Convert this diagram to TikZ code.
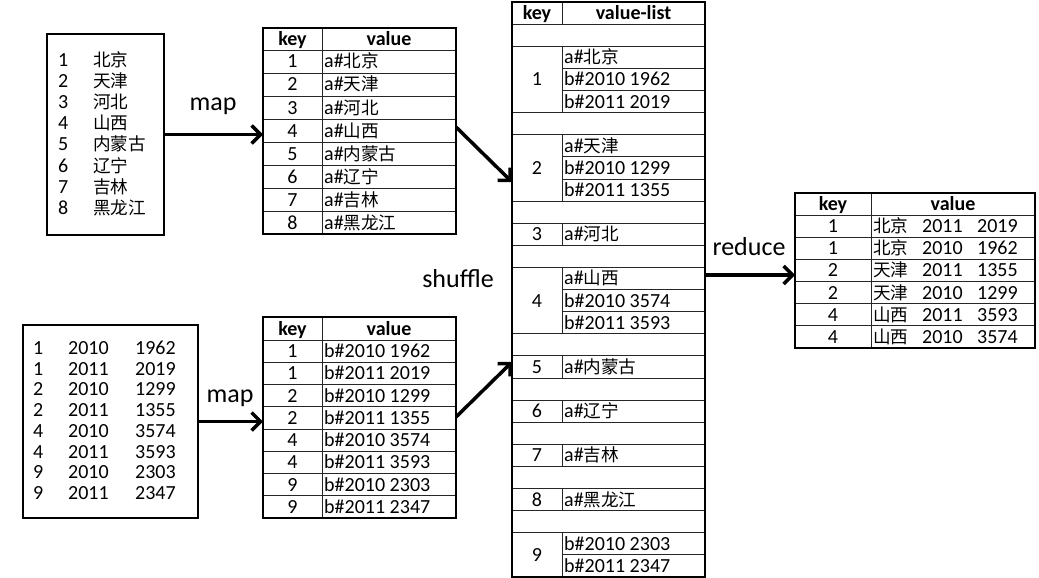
\documentclass[tikz,border=0pt]{standalone}
\usepackage{fontspec}
\setmainfont{Carlito}
\newfontfamily\cjk[Scale=0.88]{Noto Sans CJK SC}
\usetikzlibrary{arrows.meta}
\newcommand{\zh}[1]{{\cjk #1}}

\begin{document}
\begin{tikzpicture}[x=1pt,y=-1pt,
  box/.style={draw,line width=2.6pt,inner sep=0pt,outer sep=0pt},
  grid/.style={line width=0.8pt,black!85},
  txt/.style={inner sep=0pt,font=\fontsize{20}{24}\selectfont},
  hdr/.style={inner sep=0pt,font=\fontsize{20}{24}\selectfont\bfseries},
  lbl/.style={inner sep=0pt,font=\fontsize{26}{30}\selectfont},
  arr/.style={line width=3.5pt,-{Straight Barb[length=9pt,width=18pt]}}]
\useasboundingbox (0,0) rectangle (1039,578);

% ---------- input file 1 ----------
\foreach \z [count=\i] in {北京,天津,河北,山西,内蒙古,辽宁,吉林,黑龙江} {
  \pgfmathsetmacro\yb{60+21.1*(\i-1)+6.5}
  \node[txt,anchor=base west] (ina\i) at (58,\yb) {\i};
  \node[txt,anchor=base west] (inaz\i) at (93,\yb) {\zh{\z}};
}
\node[box,minimum width=117pt,minimum height=201pt] (in1) at (105.5,134.5) {};

% ---------- input file 2 ----------
\foreach \k/\yr/\n [count=\i] in {1/2010/1962,1/2011/2019,2/2010/1299,2/2011/1355,
                                   4/2010/3574,4/2011/3593,9/2010/2303,9/2011/2347} {
  \pgfmathsetmacro\yb{348+20.7*(\i-1)+6.5}
  \node[txt,anchor=base west] (inbk\i) at (33,\yb) {\k};
  \node[txt,anchor=base west] (inby\i) at (68,\yb) {\yr};
  \node[txt,anchor=base west] (inbn\i) at (135,\yb) {\n};
}
\node[box,minimum width=175pt,minimum height=193pt] (in2) at (110.5,421.5) {};

% ---------- map output 1 ----------
\foreach \k in {0,...,7} \draw[grid] (263,50+23*\k) -- (456,50+23*\k);
\draw[grid] (322,28) -- (322,234);
\node[hdr,anchor=base] (t1hk) at (292.5,45.5) {key};
\node[hdr,anchor=base] (t1hv) at (389,45.5) {value};
\foreach \z [count=\i] in {北京,天津,河北,山西,内蒙古,辽宁,吉林,黑龙江} {
  \pgfmathsetmacro\yb{50+23*(\i-0.5)+6.5}
  \node[txt,anchor=base] (t1k\i) at (292.5,\yb) {\i};
  \node[txt,anchor=base west] (t1v\i) at (324,\yb) {a\#\zh{\z}};
}
\node[box,minimum width=193pt,minimum height=206pt] (tab1) at (359.5,131) {};

% ---------- map output 2 ----------
\foreach \k in {0,...,7} \draw[grid] (263,340+22.25*\k) -- (456,340+22.25*\k);
\draw[grid] (322,317) -- (322,518);
\node[hdr,anchor=base] (t2hk) at (292.5,335) {key};
\node[hdr,anchor=base] (t2hv) at (389,335) {value};
\foreach \k/\yr/\n [count=\i] in {1/2010/1962,1/2011/2019,2/2010/1299,2/2011/1355,
                                   4/2010/3574,4/2011/3593,9/2010/2303,9/2011/2347} {
  \pgfmathsetmacro\yb{340+22.25*(\i-0.5)+6.5}
  \node[txt,anchor=base] (t2k\i) at (292.5,\yb) {\k};
  \node[txt,anchor=base west] (t2v\i) at (324,\yb) {b\#\yr\ \n};
}
\node[box,minimum width=193pt,minimum height=201pt] (tab2) at (359.5,417.5) {};

% ---------- shuffled key / value-list table ----------
\def\rh{22.115}
\foreach \k in {1,2,5,6,9,10,11,12,15,16,17,18,19,20,21,22,23,24}
  \draw[grid] (512,2+\rh*\k) -- (705,2+\rh*\k);
\foreach \k in {3,4,7,8,13,14,25}
  \draw[grid] (562,2+\rh*\k) -- (705,2+\rh*\k);
\foreach \a/\b in {0/1,2/5,6/9,10/11,12/15,16/17,18/19,20/21,22/23,24/26}
  \draw[grid] (562,2+\rh*\a) -- (562,2+\rh*\b);
\node[hdr,anchor=base] (bhk) at (537,19.5) {key};
\node[hdr,anchor=base] (bhv) at (633.5,19.5) {value-list};
\foreach \key/\a/\b in {1/2/5,2/6/9,3/10/11,4/12/15,5/16/17,6/18/19,7/20/21,8/22/23,9/24/26}
  \node[txt,anchor=base] (bk\key) at (537,2+\rh*\a/2+\rh*\b/2+6.5) {\key};
\foreach \k/\v in {2/a\#\zh{北京},3/b\#2010 1962,4/b\#2011 2019,
                   6/a\#\zh{天津},7/b\#2010 1299,8/b\#2011 1355,
                   10/a\#\zh{河北},
                   12/a\#\zh{山西},13/b\#2010 3574,14/b\#2011 3593,
                   16/a\#\zh{内蒙古},18/a\#\zh{辽宁},20/a\#\zh{吉林},22/a\#\zh{黑龙江},
                   24/b\#2010 2303,25/b\#2011 2347}
  \node[txt,anchor=base west] (bv\k) at (564,2+\rh*\k+\rh/2+6.5) {\v};
\node[box,minimum width=193pt,minimum height=575pt] (big) at (608.5,289.5) {};

% ---------- reduce output ----------
\foreach \k in {0,...,5} \draw[grid] (795,215+22.17*\k) -- (1035,215+22.17*\k);
\draw[grid] (871,193) -- (871,348);
\node[hdr,anchor=base] (ohk) at (833,210.5) {key};
\node[hdr,anchor=base] (ohv) at (953,210.5) {value};
\foreach \k/\c/\yr/\n [count=\i] in {1/北京/2011/2019,1/北京/2010/1962,2/天津/2011/1355,
                                      2/天津/2010/1299,4/山西/2011/3593,4/山西/2010/3574} {
  \pgfmathsetmacro\yb{215+22.17*(\i-0.5)+6.5}
  \node[txt,anchor=base] (ok\i) at (833,\yb) {\k};
  \node[txt,anchor=base west] (oc\i) at (873,\yb) {\zh{\c}};
  \node[txt,anchor=base west] (oy\i) at (922,\yb) {\yr};
  \node[txt,anchor=base west] (on\i) at (977,\yb) {\n};
}
\node[box,minimum width=240pt,minimum height=155pt] (out) at (915,270.5) {};

% ---------- stage arrows and labels ----------
\coordinate (redin) at ([yshift=-82pt]out.north west);
\draw[arr] (in1.east) -- (in1.east -| tab1.west);
\draw[arr] (in2.east) -- (in2.east -| tab2.west);
\draw[arr] ([yshift=-99pt]tab1.north east) -- ([yshift=-180pt]big.north west);
\draw[arr] ([yshift=101pt]tab2.south east) -- ([yshift=215pt]big.south west);
\draw[arr] (big.east |- redin) -- (redin);

\node[lbl] (lmap1) at (213,106) {map};
\node[lbl] (lmap2) at (230,398) {map};
\node[lbl] (lshuf) at (458,279) {shuffle};
\node[lbl] (lred) at (749,247) {reduce};
\end{tikzpicture}
\end{document}
